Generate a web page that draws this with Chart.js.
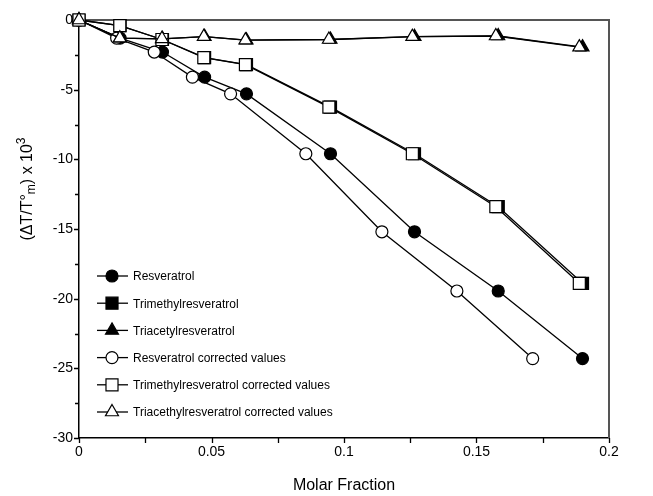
<!DOCTYPE html>
<html><head><meta charset="utf-8">
<script src="https://cdn.jsdelivr.net/npm/chart.js@4.4.0/dist/chart.umd.min.js"></script>
<style>html,body{margin:0;padding:0;background:#fff;}#wrap{width:653px;height:496px;position:relative;}</style>
</head><body><div id="wrap"><canvas id="c" width="653" height="496"></canvas></div>
<script>
// ---- data ----
const molarFraction      = [0, 0.0155, 0.0315, 0.0474, 0.0632, 0.0949, 0.1266, 0.1582, 0.1900];
const molarFractionResC  = [0, 0.0142, 0.0284, 0.0428, 0.0572, 0.0856, 0.1143, 0.1426, 0.1712];
const molarFractionOthC  = [0, 0.0154, 0.0313, 0.0471, 0.0628, 0.0943, 0.1258, 0.1573, 0.1888];
const resveratrol        = [0, -1.3, -2.3, -4.1, -5.3, -9.6, -15.2, -19.45, -24.3];
const trimethyl          = [0, -0.4, -1.4, -2.7, -3.2, -6.25, -9.6, -13.4, -18.9];
const triacetyl          = [0, -1.3, -1.35, -1.2, -1.45, -1.4, -1.2, -1.15, -1.95];
const resveratrolCorr    = [0, -1.3, -2.3, -4.1, -5.3, -9.6, -15.2, -19.45, -24.3];
const trimethylCorr      = [0, -0.4, -1.4, -2.7, -3.2, -6.25, -9.6, -13.4, -18.9];
const triacetylCorr      = [0, -1.3, -1.35, -1.2, -1.45, -1.4, -1.2, -1.15, -1.95];
const seriesLabels = ["Resveratrol","Trimethylresveratrol","Triacetylresveratrol",
  "Resveratrol corrected values","Trimethylresveratrol corrected values","Triacethylresveratrol corrected values"];
const xTitle = "Molar Fraction";

function pts(xs, ys){ return xs.map((x,i)=>({x:x, y:ys[i]})); }

const FONT = "'Liberation Sans', Arial, sans-serif";
function ds(label, xs, ys, style, radius, filled, order){
  return {label, data:pts(xs,ys), pointStyle:style, pointRadius:radius, pointHoverRadius:radius,
    backgroundColor: filled ? '#000' : '#fff', borderColor:'#000', pointBorderColor:'#000',
    pointBackgroundColor: filled ? '#000' : '#fff', pointBorderWidth:1.2, borderWidth:1.3,
    fill:false, tension:0, order, clip:false};
}
// lower "order" is drawn on top
const datasets = [
  ds(seriesLabels[0], molarFraction, resveratrol, 'circle', 6, true, 5),
  ds(seriesLabels[1], molarFraction, trimethyl, 'rect', 8.5, true, 3),
  ds(seriesLabels[2], molarFraction, triacetyl, 'triangle', 7.5, true, 2),
  ds(seriesLabels[3], molarFractionResC, resveratrolCorr, 'circle', 6, false, 4),
  ds(seriesLabels[4], molarFractionOthC, trimethylCorr, 'rect', 8.5, false, 1),
  ds(seriesLabels[5], molarFractionOthC, triacetylCorr, 'triangle', 7.5, false, 0)
];

const framePlugin = {
  id:'frame',
  beforeDatasetsDraw(chart){
    const {ctx, chartArea:a} = chart;
    ctx.save();
    ctx.strokeStyle = '#555'; ctx.lineWidth = 2;
    ctx.beginPath();
    ctx.moveTo(a.left, a.top); ctx.lineTo(a.right, a.top); ctx.lineTo(a.right, a.bottom);
    ctx.stroke();
    const xs = chart.scales.x, ys = chart.scales.y;
    ctx.strokeStyle = '#000'; ctx.lineWidth = 1.3;
    ctx.beginPath();
    xs.ticks.forEach(t=>{ const px = Math.round(xs.getPixelForValue(t.value))+0.5;
      ctx.moveTo(px, a.bottom); ctx.lineTo(px, a.bottom+5); });
    ys.ticks.forEach(t=>{ const py = Math.round(ys.getPixelForValue(t.value))+0.5;
      const major = Math.abs(t.value/5 - Math.round(t.value/5))<1e-6;
      ctx.moveTo(a.left, py); ctx.lineTo(a.left-(major?5:4), py); });
    ctx.stroke();
    ctx.restore();
  },
  afterDraw(chart){
    const {ctx, chartArea:a} = chart;
    ctx.save();
    ctx.fillStyle = '#000';
    ctx.font = '16px ' + FONT; ctx.textAlign = 'center'; ctx.textBaseline = 'middle';
    ctx.fillText(xTitle, (a.left+a.right)/2, 486);
    ctx.translate(28, 189); ctx.rotate(-Math.PI/2);
    const parts = [['(\u0394T/T\u00B0',16,0],['m',12,4],[') x 10',16,0],['3',12,-6]];
    let w = 0;
    parts.forEach(p=>{ ctx.font = p[1]+'px '+FONT; w += ctx.measureText(p[0]).width; });
    let x = -w/2; ctx.textAlign = 'left'; ctx.textBaseline = 'middle';
    parts.forEach(p=>{ ctx.font = p[1]+'px '+FONT; ctx.fillText(p[0], x, p[2]); x += ctx.measureText(p[0]).width; });
    ctx.restore();
    ctx.save();
    const legendY0 = 276, legendDy = 27.2;
    chart.data.datasets.forEach((d,i)=>{
      const y = legendY0 + i*legendDy;
      ctx.strokeStyle = '#000'; ctx.lineWidth = 1.3;
      ctx.beginPath(); ctx.moveTo(97, y); ctx.lineTo(128, y); ctx.stroke();
      ctx.fillStyle = d.pointBackgroundColor; ctx.strokeStyle = '#000'; ctx.lineWidth = 1.2;
      Chart.helpers.drawPoint(ctx, {pointStyle:d.pointStyle, radius:d.pointRadius, borderWidth:1.2, rotation:0}, 112, y);
      ctx.fillStyle = '#000'; ctx.font = '12px ' + FONT; ctx.textAlign='left'; ctx.textBaseline='middle';
      ctx.fillText(d.label, 133, y+1);
    });
    ctx.restore();
  }
};

new Chart(document.getElementById('c'), {
  type:'line',
  data:{datasets},
  options:{
    responsive:false, devicePixelRatio:1, animation:false,
    layout:{padding:{top:20, right:44, left:0, bottom:0}},
    plugins:{legend:{display:false}, tooltip:{enabled:false}},
    scales:{
      x:{type:'linear', min:0, max:0.2,
        grid:{display:false, drawTicks:false},
        border:{display:true, color:'#000', width:1.5},
        afterFit:(s)=>{ s.height = 58; },
        ticks:{stepSize:0.025, autoSkip:false, maxRotation:0, padding:6, color:'#000',
          font:{family:FONT, size:14},
          callback:(v)=>{ const k=v/0.05; return Math.abs(k-Math.round(k))<1e-6 ? String(Math.round(k)*5/100) : ''; }}},
      y:{type:'linear', min:-30, max:0,
        grid:{display:false, drawTicks:false},
        border:{display:true, color:'#000', width:1.5},
        afterFit:(s)=>{ s.width = 79; },
        ticks:{stepSize:2.5, autoSkip:false, padding:6, color:'#000',
          font:{family:FONT, size:14},
          callback:(v)=>{ const k=v/5; return Math.abs(k-Math.round(k))<1e-6 ? String(Math.round(k)*5) : ''; }}}
    }
  },
  plugins:[framePlugin]
});
</script></body></html>
